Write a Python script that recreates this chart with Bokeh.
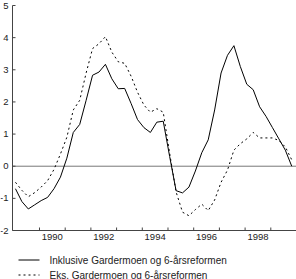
import numpy as np
from bokeh.plotting import figure
from bokeh.models import ColumnDataSource, Range1d
from bokeh.core.properties import value
from bokeh.embed import file_html
from bokeh.resources import INLINE

# Quarterly data, 1989 Q1 - 1999 Q4
start_year = 1989
n_quarters = 44
inklusive = [-0.70, -1.10, -1.33, -1.20, -1.07, -0.97, -0.70, -0.34,
             0.25, 1.05, 1.30, 2.05, 2.83, 2.93, 3.17, 2.72,
             2.41, 2.42, 1.95, 1.45, 1.20, 1.05, 1.37, 1.40,
             0.30, -0.76, -0.83, -0.65, -0.15, 0.42, 0.82, 1.75,
             2.90, 3.45, 3.75, 3.10, 2.55, 2.38, 1.85, 1.55,
             1.20, 0.85, 0.50, 0.00]
eks = [-0.50, -0.75, -0.95, -0.82, -0.65, -0.45, -0.10, 0.38,
       0.90, 1.75, 2.05, 2.90, 3.66, 3.81, 4.03, 3.55,
       3.25, 3.20, 2.80, 2.30, 1.90, 1.68, 1.79, 1.68,
       0.40, -0.80, -1.43, -1.54, -1.35, -1.18, -1.38, -1.05,
       -0.50, -0.12, 0.50, 0.70, 0.85, 1.05, 0.88, 0.88,
       0.88, 0.80, 0.60, 0.20]
label_years = [1990, 1992, 1994, 1996, 1998]
tick_years = list(range(1990, 2000))
y_ticks = [-2, -1, 0, 1, 2, 3, 4, 5]
names = ["Inklusive Gardermoen og 6-årsreformen", "Eks. Gardermoen og 6-årsreformen"]

# ---- layout (pixels) ----
W, H = 296, 279
X_MIN, X_MAX = 1988.95, 2000.0      # axis extent in years
Y_MIN, Y_MAX = -2.0, 5.0            # axis extent in values
AX_LEFT, AX_TOP, AX_BOTTOM = 12, 5, 230
sx = (W - AX_LEFT) / (X_MAX - X_MIN)          # px per year
sy = (AX_BOTTOM - AX_TOP) / (Y_MAX - Y_MIN)   # px per unit

def dx(px):  # pixel offset -> years
    return px / sx

def dy(px):  # pixel offset -> value units
    return px / sy

x_range = Range1d(X_MIN - dx(AX_LEFT), X_MAX)
y_range = Range1d(Y_MIN - dy(H - AX_BOTTOM), Y_MAX + dy(AX_TOP))

FONT = "Liberation Sans"
DASH = "2 3"
AXC = "#444444"
TXC = "#222222"

p = figure(width=W, height=H, x_range=x_range, y_range=y_range,
           output_backend="svg", toolbar_location=None,
           x_axis_location=None, y_axis_location=None,
           min_border_left=0, min_border_right=0, min_border_top=0, min_border_bottom=0)
p.outline_line_color = None
p.grid.visible = False

# zero line
p.segment(x0=[X_MIN], y0=[0], x1=[X_MAX], y1=[0], line_color="#777777", line_width=1)

# data series
x = start_year + 0.065 + 0.25 * np.arange(n_quarters)
src = ColumnDataSource(dict(x=x, a=inklusive, b=eks))
p.line("x", "a", source=src, line_color="black", line_width=1)
p.line("x", "b", source=src, line_color="black", line_width=1, line_dash=DASH)

# axes lines
p.segment(x0=[X_MIN, X_MIN], y0=[Y_MIN, Y_MIN], x1=[X_MIN, X_MAX], y1=[Y_MAX, Y_MIN],
          line_color=AXC, line_width=1)
# y ticks (inside) and labels
p.segment(x0=[X_MIN] * len(y_ticks), y0=y_ticks,
          x1=[X_MIN + dx(3)] * len(y_ticks), y1=y_ticks, line_color=AXC, line_width=1)
p.text(x=[X_MIN - dx(4)] * len(y_ticks), y=y_ticks, text=[str(v) for v in y_ticks],
       text_font=value(FONT), text_font_size="9.5px", text_color=TXC,
       text_align="right", text_baseline="middle")
# x ticks (inside, at year boundaries) and labels (mid-year)
p.segment(x0=tick_years, y0=[Y_MIN] * len(tick_years),
          x1=tick_years, y1=[Y_MIN + dy(3)] * len(tick_years), line_color=AXC, line_width=1)
p.text(x=[yy + 0.5 for yy in label_years], y=[Y_MIN - dy(3)] * len(label_years),
       text=[str(yy) for yy in label_years],
       text_font=value(FONT), text_font_size="9.5px", text_color=TXC,
       text_align="center", text_baseline="top")

# legend below the chart
row_y = [Y_MIN - dy(259.5 - AX_BOTTOM), Y_MIN - dy(274.5 - AX_BOTTOM)]
lx0 = X_MIN - dx(AX_LEFT) + dx(18)
lx1 = X_MIN - dx(AX_LEFT) + dx(39)
ltx = X_MIN - dx(AX_LEFT) + dx(49)
p.line(x=[lx0, lx1], y=[row_y[0], row_y[0]], line_color="black", line_width=1)
p.line(x=[lx0, lx1], y=[row_y[1], row_y[1]], line_color="black", line_width=1, line_dash=DASH)
p.text(x=[ltx, ltx], y=row_y, text=names, text_font=value(FONT), text_font_size="10px",
       text_color=TXC, text_baseline="middle", text_align="left")

open("out.html", "w").write(file_html(p, INLINE))
